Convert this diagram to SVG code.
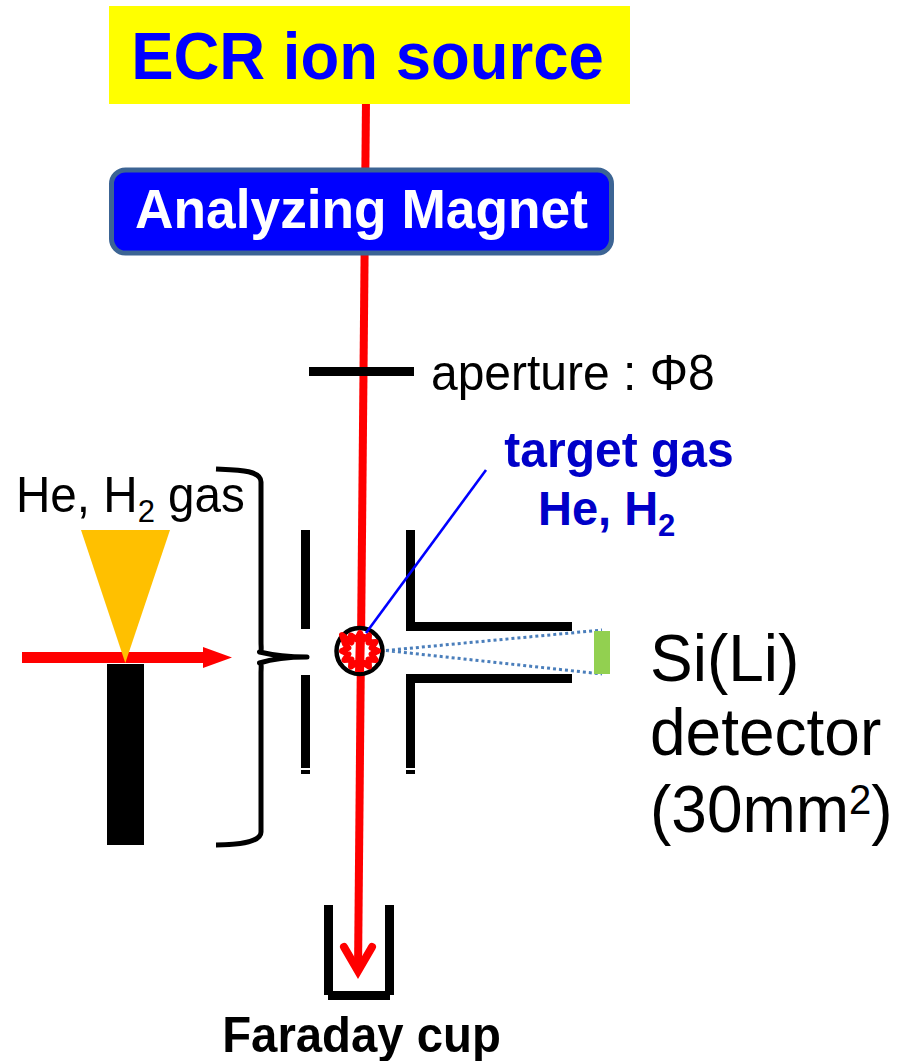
<svg xmlns="http://www.w3.org/2000/svg" width="898" height="1061" viewBox="0 0 898 1061">
<style>
text{font-family:"Liberation Sans",Arial,sans-serif}
.b{font-weight:bold}
.wall{fill:#000}
.beam{stroke:#f00;fill:none;stroke-width:8}
.tg{fill:#0000c8}
</style>
<rect width="898" height="1061" fill="#fff"/>
<g id="connectors">
<path class="beam" d="M366 100L358 972"/>
<path class="beam" stroke-linecap="round" stroke-linejoin="miter" d="M344 947L358 971L372 947"/>
<path d="M386 650.500L602 630M386 650.500L602 674" fill="none" stroke="#4a7ebb" stroke-width="3" stroke-dasharray="3 3"/>
</g>
<g id="ecr-source">
<rect x="109" y="6" width="521" height="98" fill="#ff0"/>
<text class="b" transform="translate(367.500 78.500) scale(1 1.060)" font-size="63.500" fill="#00f" text-anchor="middle">ECR ion source</text>
</g>
<g id="analyzing-magnet">
<rect x="111.500" y="170" width="500" height="83" rx="14" fill="#00f" stroke="#3c6494" stroke-width="5"/>
<text class="b" transform="translate(361.500 228) scale(1 1.040)" font-size="53.300" fill="#fff" text-anchor="middle">Analyzing Magnet</text>
</g>
<g id="aperture">
<rect x="309" y="367" width="105" height="9" class="wall"/>
<text transform="translate(431 389.500) scale(1 1.040)" font-size="48">aperture : Φ8</text>
</g>
<g id="gas-jet">
<text transform="translate(16 512) scale(1 1.040)" font-size="47.600">He, H<tspan font-size="31" dy="10">2</tspan><tspan dy="-10"> gas</tspan></text>
<rect x="107" y="664" width="37" height="181" class="wall"/>
<path d="M22 652H203V647L232 657.500L203 668V663H22Z" fill="#f00"/>
<path d="M81 530H170L125.300 663Z" fill="#ffc000"/>
<path d="M216 469C238 470 261 470 261 482V642C261 648 262 651 259.500 652C272 655 285 657 307 657C285 657 272 659 259.500 663C262 664 261 667 261 673V832C261 842 238 845 216 845" fill="none" stroke="#000" stroke-width="5" stroke-linejoin="round"/>
</g>
<g id="chamber">
<rect x="301" y="530" width="9" height="99" class="wall"/>
<rect x="301" y="675" width="9" height="93" class="wall"/>
<rect x="301" y="770" width="9" height="4" class="wall"/>
<path class="wall" d="M406 530H415V622H572V631H406Z"/>
<path class="wall" d="M406 674H572V683H415V768H406Z"/>
<rect x="406" y="770" width="9" height="4" class="wall"/>
<circle cx="359.500" cy="651" r="23" fill="#fff" stroke="#000" stroke-width="4.500"/>
<path d="M378 651L371.600 654.100L375.600 660L368.500 659.500L369 666.600L363.100 662.600L360 669L356.900 662.600L351 666.600L351.500 659.500L344.400 660L348.400 654.100L342 651L348.400 647.900L345 644L342 635L351.500 642.500L351 635.400L356.900 639.400L360 633L363.100 639.400L369 635.400L368.500 642.500L375.600 642L371.600 647.900Z" fill="#fff" stroke="#f00" stroke-width="6" stroke-linejoin="round"/>
<path d="M360.500 634L359.500 672" stroke="#f00" stroke-width="9" fill="none"/>
</g>
<g id="target-gas">
<path d="M486 470L366 633" fill="none" stroke="#00f" stroke-width="2.600"/>
<text class="b tg" transform="translate(619 467) scale(1 1.040)" font-size="48" text-anchor="middle">target gas</text>
<text class="b tg" transform="translate(538 525) scale(1 1.040)" font-size="47">He, H<tspan font-size="31" dy="11">2</tspan></text>
</g>
<g id="detector">
<rect x="594" y="631" width="16" height="43" fill="#92d050"/>
<text transform="translate(650 681) scale(1 1.050)" font-size="64">Si(Li)</text>
<text transform="translate(650 755) scale(1 1.050)" font-size="64">detector</text>
<text transform="translate(650 832) scale(1 1.050)" font-size="64">(30mm<tspan font-size="40" dy="-17">2</tspan><tspan dy="17">)</tspan></text>
</g>
<g id="faraday-cup">
<path class="wall" d="M324 905H333V991H385V905H394V995H390V1000H328V995H324Z"/>
<text class="b" transform="translate(361.500 1052) scale(1 1.040)" font-size="47.300" text-anchor="middle">Faraday cup</text>
</g>
</svg>
